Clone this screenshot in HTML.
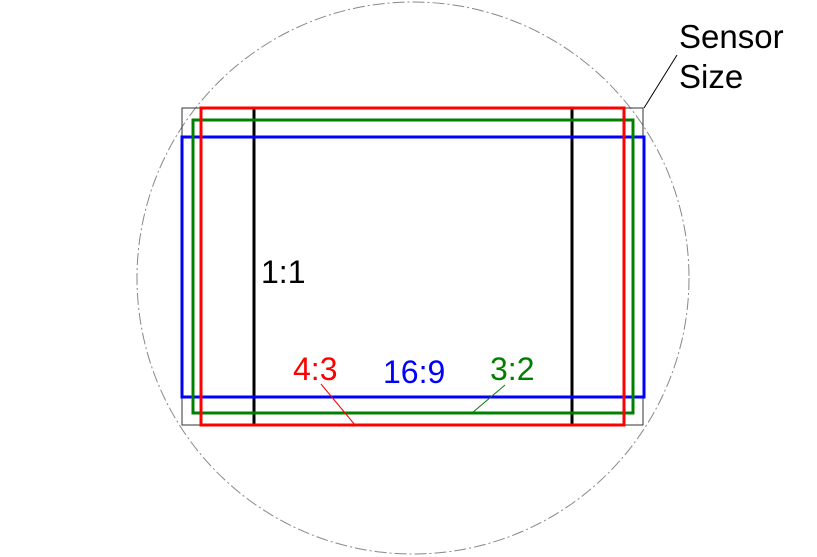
<!DOCTYPE html>
<html><head><meta charset="utf-8"><style>
html,body{margin:0;padding:0;background:#fff;}
svg{display:block;}
text{font-family:"Liberation Sans",Arial,sans-serif;}
</style></head><body>
<svg width="817" height="557" viewBox="0 0 817 557">
  <circle cx="413" cy="278" r="276" fill="none" stroke="#888" stroke-width="1" stroke-dasharray="12,3,2,3"/>
  <rect x="182" y="108" width="461" height="317" fill="none" stroke="#333" stroke-width="1"/>
  <line x1="254" y1="108" x2="254" y2="425" stroke="#000" stroke-width="3"/>
  <line x1="572" y1="108" x2="572" y2="425" stroke="#000" stroke-width="3"/>
  <rect x="182" y="137" width="462" height="260" fill="none" stroke="#0000ff" stroke-width="3"/>
  <rect x="193" y="120" width="440" height="293" fill="none" stroke="#008000" stroke-width="3"/>
  <rect x="201" y="108" width="423" height="317" fill="none" stroke="#ff0000" stroke-width="3"/>
  <line x1="644" y1="108" x2="677" y2="55" stroke="#000" stroke-width="1"/>
  <line x1="321" y1="384" x2="355" y2="425" stroke="#ff0000" stroke-width="1"/>
  <line x1="505" y1="385" x2="472" y2="413" stroke="#008000" stroke-width="1"/>
  <text x="679" y="48" font-size="33" fill="#000">Sensor</text>
  <text x="679" y="88" font-size="33" fill="#000">Size</text>
  <text x="261" y="283" font-size="32" fill="#000">1:1</text>
  <text x="293" y="380" font-size="32" fill="#ff0000">4:3</text>
  <text x="383" y="383" font-size="32" fill="#0000ff">16:9</text>
  <text x="490" y="380" font-size="32" fill="#008000">3:2</text>
</svg>
</body></html>
